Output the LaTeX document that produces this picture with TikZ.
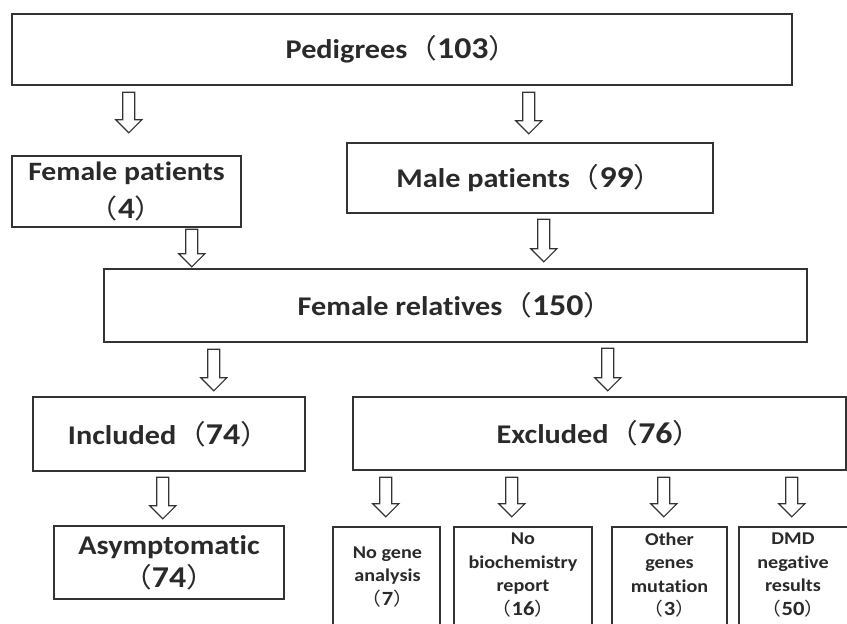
\documentclass[tikz,border=0pt]{standalone}
\usepackage{fontspec}
\setmainfont{Carlito}[FakeStretch=1.12, Ligatures=NoCommon]
\newfontfamily\digitfont{Carlito}[Scale=1.12, FakeStretch=1.12]
\newfontfamily\cjkfont{Noto Sans CJK SC}[FakeStretch=1.1]
\usetikzlibrary{calc}
\newcommand\paren[1]{{\cjkfont\mdseries （}{\digitfont\bfseries #1}{\cjkfont\mdseries ）}}
\definecolor{ink}{HTML}{2A2A2A}
\definecolor{edge}{HTML}{333333}
\tikzset{
  box/.style={draw=edge, line width=2.4pt, inner sep=0pt, align=center, text=ink, font=\bfseries\fontsize{27}{36}\selectfont},
  smalltext/.style={align=center, text=ink, inner sep=0pt, font=\bfseries\fontsize{18}{23.5}\selectfont},
  hollow/.style={draw=edge, line width=1.2pt, fill=white, line join=miter,
    to path={let \p1=(\tikztostart), \p2=(\tikztotarget) in
      (\x1-6pt,\y1) -- (\x1+6pt,\y1) -- (\x1+6pt,\y2+13pt) -- (\x1+13pt,\y2+13pt)
      -- (\x1,\y2) -- (\x1-13pt,\y2+13pt) -- (\x1-6pt,\y2+13pt) -- cycle}}
}
\begin{document}
\begin{tikzpicture}[x=1pt,y=-1pt]
\clip (0,0) rectangle (847,624);
\useasboundingbox (0,0) rectangle (847,624);
\fill[white] (0,0) rectangle (847,624);
% boxes
\node[box, minimum width=780pt, minimum height=71pt] (ped) at (402,49.5) {Pedigrees\paren{103}};
\node[box, minimum width=229pt, minimum height=71pt, font=\bfseries\fontsize{26.5}{38}\selectfont] (fem) at (126.5,191.5) {Female patients\\\paren{4}};
\node[box, minimum width=366pt, minimum height=70pt] (male) at (530,178) {Male patients\paren{99}};
\node[box, minimum width=703pt, minimum height=73pt] (rel) at (455.5,305.5) {Female relatives\paren{150}};
\node[box, minimum width=272pt, minimum height=74pt] (inc) at (169,434) {Included\paren{74}};
\node[box, minimum width=493pt, minimum height=73pt] (exc) at (599.5,433.5) {Excluded\paren{76}};
\node[box, minimum width=230pt, minimum height=73pt, font=\bfseries\fontsize{27}{33}\selectfont] (asym) at (169,562.5) {Asymptomatic\\\paren{74}};
\node[box, minimum width=107pt, minimum height=133pt] (b1) at (386.5,593.5) {};
\node[box, minimum width=138pt, minimum height=133pt] (b2) at (523,593.5) {};
\node[box, minimum width=115pt, minimum height=133pt] (b3) at (669.5,593.5) {};
\node[box, minimum width=131pt, minimum height=133pt] (b4) at (804.5,593.5) {};
\node[smalltext] (t1) at ($(b1.north)+(1,51)$) {No gene\\analysis\\\paren{7}};
\node[smalltext] (t2) at ($(b2.north)+(0,49)$) {No\\biochemistry\\report\\\paren{16}};
\node[smalltext] (t3) at ($(b3.north)+(0,49)$) {Other\\genes\\mutation\\\paren{3}};
\node[smalltext] (t4) at ($(b4.north)+(-11.5,49)$) {DMD\\negative\\results\\\paren{50}};
% arrows
\draw[hollow] ($(ped.south west)+(118,6)$) to ($(fem.north west)+(118,-22)$);
\draw[hollow] ($(ped.south west)+(518,6)$) to ($(male.north west)+(183,-8)$);
\draw[hollow] ($(fem.south west)+(181,1)$) to ($(rel.north west)+(89,-1)$);
\draw[hollow] ($(male.south west)+(198,5)$) to ($(rel.north west)+(441,-6)$);
\draw[hollow] ($(rel.south west)+(111,6)$) to ($(inc.north west)+(182,-5)$);
\draw[hollow] ($(rel.south west)+(505,5)$) to ($(exc.north west)+(256,-5)$);
\draw[hollow] ($(inc.south west)+(131,5)$) to ($(asym.north west)+(110,-6)$);
\draw[hollow] ($(exc.south west)+(34,6)$) to ($(b1.north)+(0,-9)$);
\draw[hollow] ($(exc.south west)+(160,6)$) to ($(b2.north)+(0,-9)$);
\draw[hollow] ($(exc.south west)+(312,6)$) to ($(b3.north)+(0,-9)$);
\draw[hollow] ($(exc.south west)+(440,6)$) to ($(b4.north)+(0,-9)$);
\end{tikzpicture}
\end{document}
